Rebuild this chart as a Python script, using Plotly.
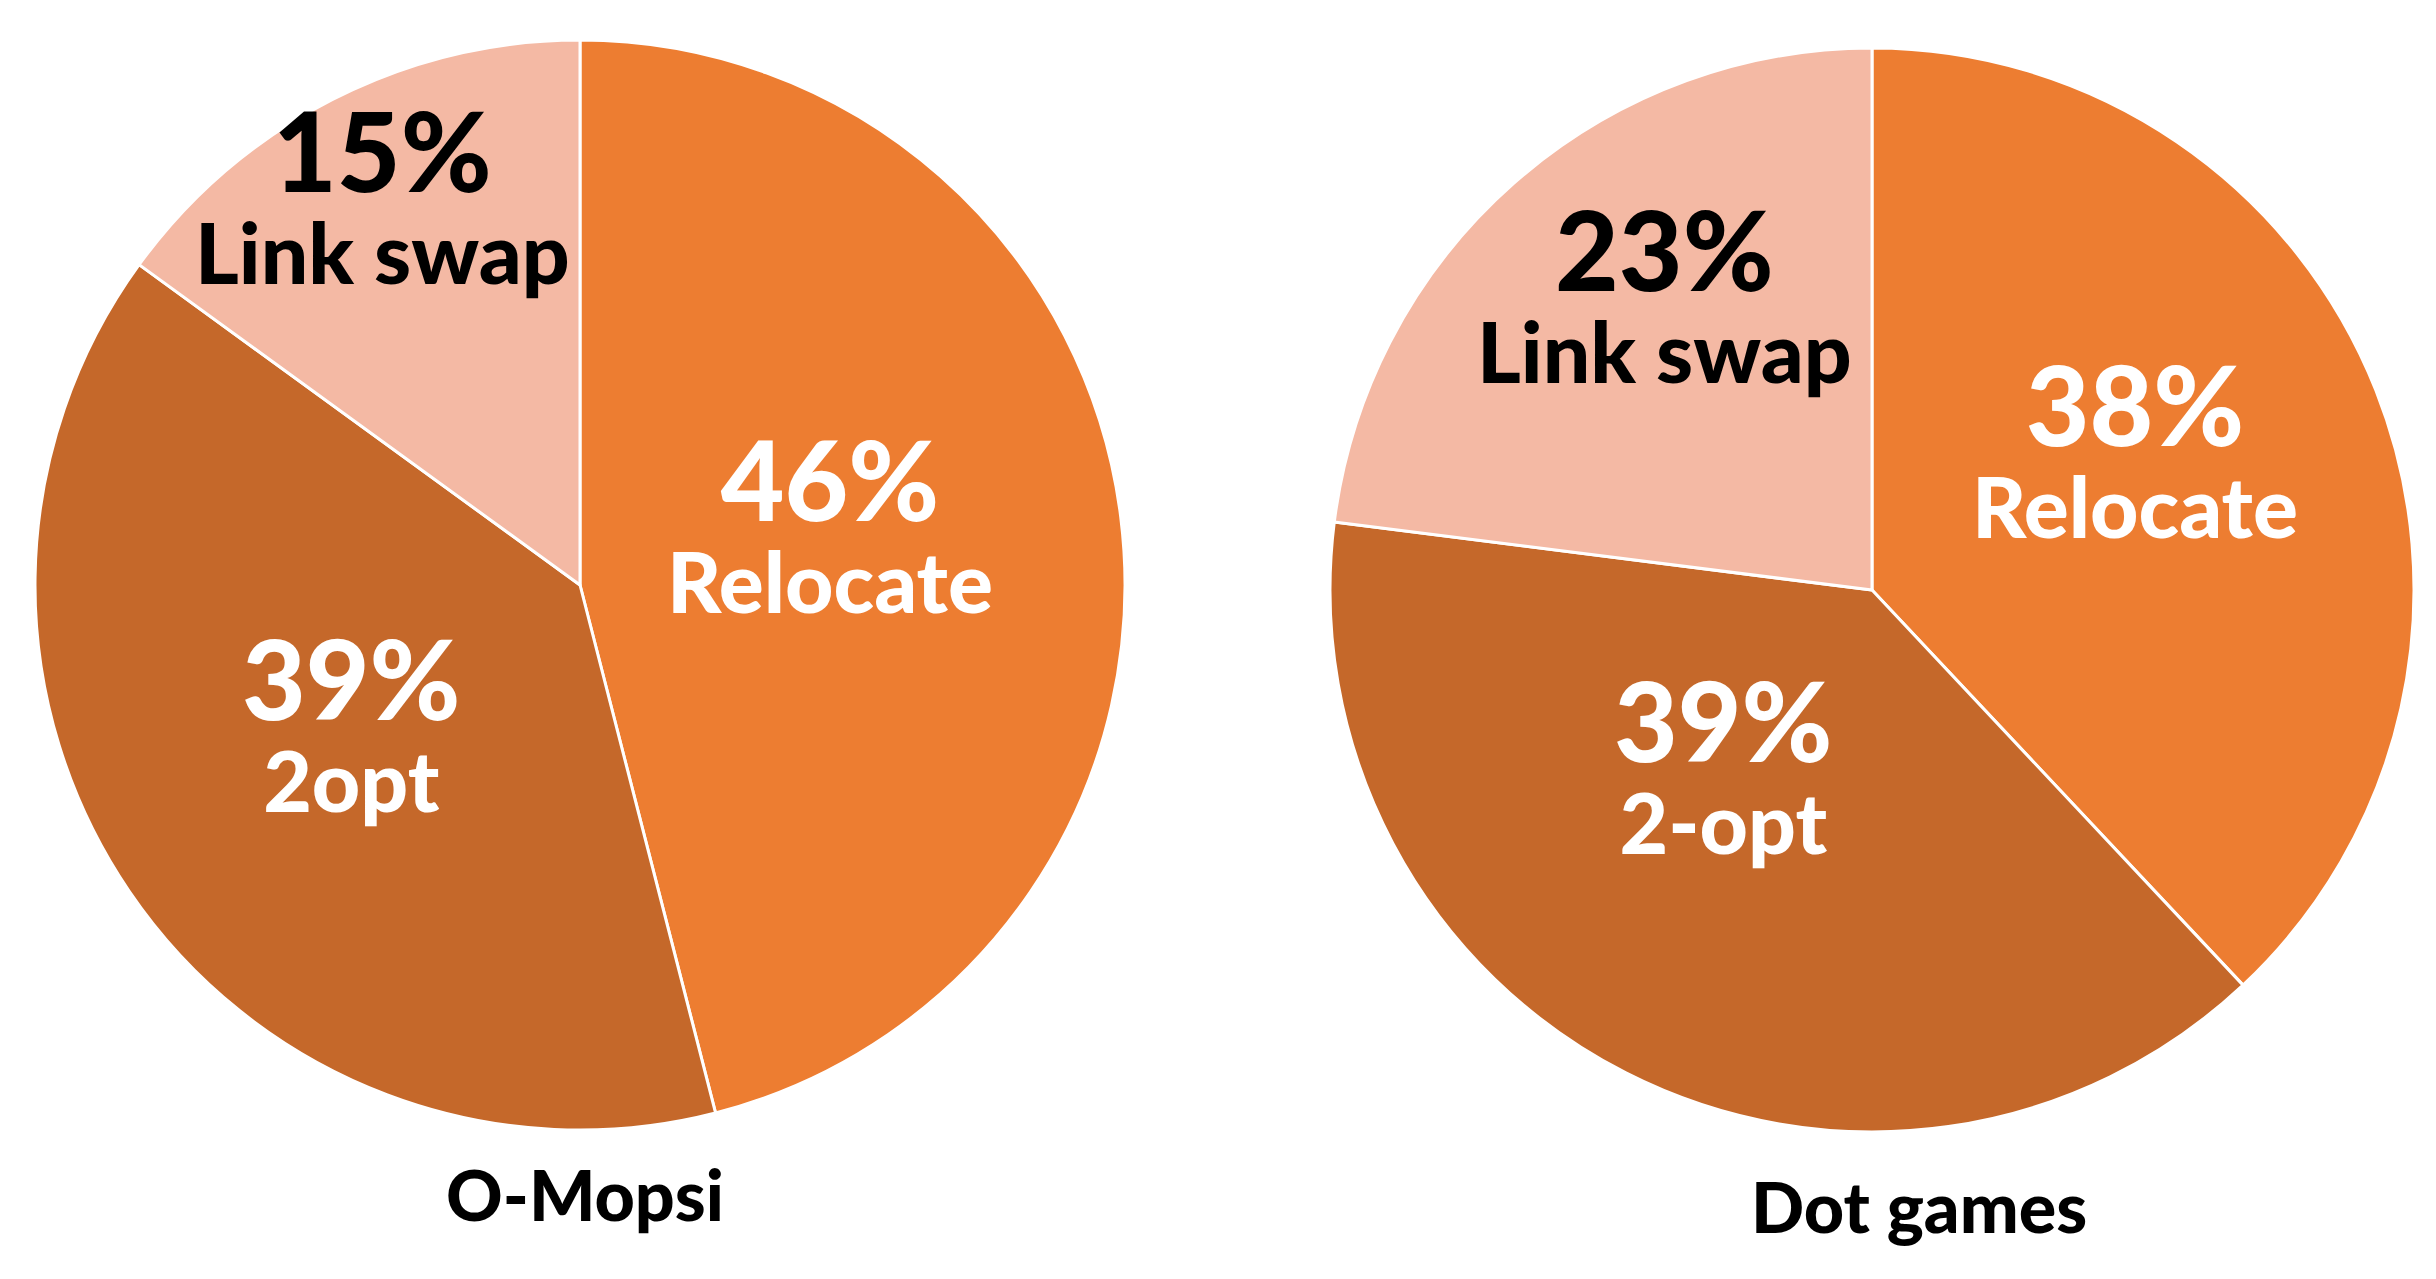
import math
import plotly.graph_objects as go

# Data
left_labels = ["Relocate", "2opt", "Link swap"]
left_values = [46, 39, 15]
right_labels = ["Relocate", "2-opt", "Link swap"]
right_values = [38, 39, 23]
chart_titles = ["O-Mopsi", "Dot games"]

# Styles
colors = ["#ED7D31", "#C5682A", "#F4B9A4"]
text_colors = ["white", "white", "black"]
FONT = "Lato, 'Open Sans', sans-serif"
W, H = 2436, 1279

# pie boxes in pixels (x0, x1, ytop, ybot)
boxes = [(27, 1117, 32, 1122), (1322, 2406, 40, 1124)]
# label block placement: fraction of radius and angle shift (deg) from slice mid-angle
label_radius = [[0.477, 0.495, 0.772], [0.548, 0.44, 0.638]]
label_shift = [[-2.8, -0.4, 0.0], [-3.5, 9.8, 5.7]]
title_pos = [(577, 1186), (1911, 1198)]
PCT_SIZE, LBL_SIZE, BASE_SIZE = 110, 84, 71


def px_dom(x0, x1, ytop, ybot):
    return dict(x=[x0 / W, x1 / W], y=[1 - ybot / H, 1 - ytop / H])


fig = go.Figure()
for k, (labels, values) in enumerate([(left_labels, left_values),
                                      (right_labels, right_values)]):
    x0, x1, yt, yb = boxes[k]
    fig.add_trace(go.Pie(
        labels=labels,
        values=values,
        sort=False,
        direction="clockwise",
        rotation=0,
        domain=px_dom(x0, x1, yt, yb),
        marker=dict(colors=colors, line=dict(color="white", width=3)),
        textinfo="none",
        hoverinfo="label+percent",
        showlegend=False,
    ))
    cx, cy = (x0 + x1) / 2, (yt + yb) / 2
    R = min(x1 - x0, yb - yt) / 2
    total = sum(values)
    cum = 0
    for i, (lab, v) in enumerate(zip(labels, values)):
        mid = (cum + v / 2) / total * 2 * math.pi + math.radians(label_shift[k][i])
        cum += v
        r = label_radius[k][i] * R
        px = cx + r * math.sin(mid)
        py = cy - r * math.cos(mid)
        pct = f"{round(v / total * 100)}%"
        txt = (f"<span style='font-size:{PCT_SIZE}px'>{pct}</span><br>"
               f"<span style='font-size:{LBL_SIZE}px'>{lab}</span>")
        fig.add_annotation(
            x=px / W, y=1 - py / H, xref="paper", yref="paper",
            xanchor="center", yanchor="middle", showarrow=False,
            xshift=-6, yshift=18,
            text=txt,
            font=dict(family=FONT, size=BASE_SIZE, color=text_colors[i], weight=900),
        )

for title, (tx, ty) in zip(chart_titles, title_pos):
    fig.add_annotation(x=tx / W, y=1 - ty / H, xref="paper", yref="paper",
                       xanchor="center", yanchor="middle",
                       text=title, showarrow=False,
                       font=dict(family=FONT, size=70, color="black", weight=900))

fig.update_layout(
    width=W, height=H,
    margin=dict(l=0, r=0, t=0, b=0),
    paper_bgcolor="white",
    plot_bgcolor="white",
)

fig.write_html("out.html")
